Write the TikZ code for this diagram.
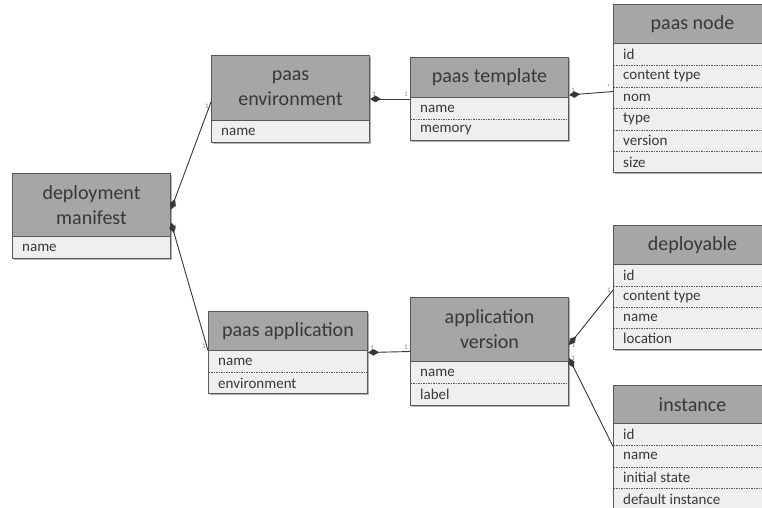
\documentclass[tikz,border=0pt]{standalone}
\usepackage{fontspec}
\setmainfont{Carlito}
\usetikzlibrary{calc,arrows.meta,shadows}
\definecolor{headgray}{HTML}{A6A6A6}
\definecolor{attrgray}{HTML}{EFEFEF}
\definecolor{linegray}{HTML}{595959}
\definecolor{textgray}{HTML}{383838}
\definecolor{multgray}{HTML}{808080}
\tikzset{
  entity/.style={draw=linegray, line width=1pt, fill=attrgray, anchor=north west,
    minimum width=158pt, inner sep=0pt,
    drop shadow={shadow xshift=1.5pt, shadow yshift=-1.5pt, opacity=0.3, fill=black}},
  head/.style={draw=linegray, line width=1pt, fill=headgray, text=textgray,
    anchor=north west, minimum width=158pt, inner sep=0pt, align=center,
    font=\fontsize{20}{25}\selectfont},
  attr/.style={anchor=west, text=textgray, inner sep=0pt, font=\fontsize{15}{18}\selectfont},
  sep/.style={linegray, line width=0.6pt, dash pattern=on 1.5pt off 1pt},
  link/.style={{Diamond[length=11pt,width=6.5pt]}-, draw=textgray, line width=0.9pt},
  mult/.style={text=multgray, inner sep=2pt, font=\fontsize{7}{8}\selectfont}
}
\begin{document}
\begin{tikzpicture}[x=1pt, y=-1pt]
    \useasboundingbox (0,0) rectangle (762,508);
    \clip (0,0) rectangle (762,508);
    \fill[white] (0,0) rectangle (762,508);

    % deployment manifest
    \node[entity, minimum height=85pt] (manifest) at (12,173) {};
    \node[head, minimum height=63pt] (manifest-head) at (manifest.north west) {deployment\\manifest};
    \foreach \t [count=\i] in {name}
        \node[attr] at ($(manifest-head.south west)+(10,{(\i-0.5)*21.5})$) {\t};

    % paas environment
    \node[entity, minimum height=87pt] (env) at (211,55) {};
    \node[head, minimum height=65pt] (env-head) at (env.north west) {paas\\environment};
    \foreach \t [count=\i] in {name}
        \node[attr] at ($(env-head.south west)+(10,{(\i-0.5)*21.5})$) {\t};

    % paas template
    \node[entity, minimum height=83pt] (tmpl) at (410,57) {};
    \node[head, minimum height=40pt] (tmpl-head) at (tmpl.north west) {paas template};
    \foreach \t [count=\i] in {name, memory} {
        \ifnum\i>1 \draw[sep] ($(tmpl-head.south west)+(0.5,{(\i-1)*21.5})$) -- ++(157,0); \fi
        \node[attr] at ($(tmpl-head.south west)+(10,{(\i-0.5)*21.5})$) {\t};
    }

    % paas node
    \node[entity, minimum height=168pt] (pnode) at (613,4) {};
    \node[head, minimum height=39pt] (pnode-head) at (pnode.north west) {paas node};
    \foreach \t [count=\i] in {id, content type, nom, type, version, size} {
        \ifnum\i>1 \draw[sep] ($(pnode-head.south west)+(0.5,{(\i-1)*21.5})$) -- ++(157,0); \fi
        \node[attr] at ($(pnode-head.south west)+(10,{(\i-0.5)*21.5})$) {\t};
    }

    % paas application
    \node[entity, minimum width=159pt, minimum height=82pt] (app) at (208,311) {};
    \node[head, minimum width=159pt, minimum height=39pt] (app-head) at (app.north west) {paas application};
    \foreach \t [count=\i] in {name, environment} {
        \ifnum\i>1 \draw[sep] ($(app-head.south west)+(0.5,{(\i-1)*21.5})$) -- ++(158,0); \fi
        \node[attr] at ($(app-head.south west)+(10,{(\i-0.5)*21.5})$) {\t};
    }

    % application version
    \node[entity, minimum height=108pt] (ver) at (410,297) {};
    \node[head, minimum height=64pt] (ver-head) at (ver.north west) {application\\version};
    \foreach \t [count=\i] in {name, label} {
        \ifnum\i>1 \draw[sep] ($(ver-head.south west)+(0.5,{(\i-1)*21.5})$) -- ++(157,0); \fi
        \node[attr] at ($(ver-head.south west)+(10,{(\i-0.5)*21.5})$) {\t};
    }

    % deployable
    \node[entity, minimum height=124pt] (deploy) at (613,225) {};
    \node[head, minimum height=39pt] (deploy-head) at (deploy.north west) {deployable};
    \foreach \t [count=\i] in {id, content type, name, location} {
        \ifnum\i>1 \draw[sep] ($(deploy-head.south west)+(0.5,{(\i-1)*21})$) -- ++(157,0); \fi
        \node[attr] at ($(deploy-head.south west)+(10,{(\i-0.5)*21})$) {\t};
    }

    % instance
    \node[entity, minimum height=124pt] (inst) at (613,385) {};
    \node[head, minimum height=38pt] (inst-head) at (inst.north west) {instance};
    \foreach \t [count=\i] in {id, name, initial state, default instance} {
        \ifnum\i>1 \draw[sep] ($(inst-head.south west)+(0.5,{(\i-1)*21.5})$) -- ++(157,0); \fi
        \node[attr] at ($(inst-head.south west)+(10,{(\i-0.5)*21.5})$) {\t};
    }

    % links
    \draw[link] ([yshift=6.5pt]manifest.east) -- ([yshift=-3pt]env.west)
        node[mult, at start, above right] {1} node[mult, at end, below left] {1};
    \draw[link] ([yshift=-6.5pt]manifest.east) -- ([yshift=2pt]app.west)
        node[mult, at start, below right] {1} node[mult, at end, above left] {1};
    \draw[link] (env.east) -- (tmpl.west)
        node[mult, at start, above right] {1} node[mult, at end, above left] {1};
    \draw[link] ([yshift=4pt]tmpl.east) -- ([yshift=-3pt]pnode.west)
        node[mult, at start, above right] {1} node[mult, at end, above left] {*};
    \draw[link] (app.east) -- (ver.west)
        node[mult, at start, above right] {1} node[mult, at end, above left] {1};
    \draw[link] ([yshift=6.5pt]ver.east) -- ([yshift=-2.5pt]deploy.west)
        node[mult, at start, right] {1} node[mult, at end, left] {1};
    \draw[link] ([yshift=-6.5pt]ver.east) -- ([yshift=1pt]inst.west)
        node[mult, at start, right] {1} node[mult, at end, above left] {*};
\end{tikzpicture}
\end{document}
